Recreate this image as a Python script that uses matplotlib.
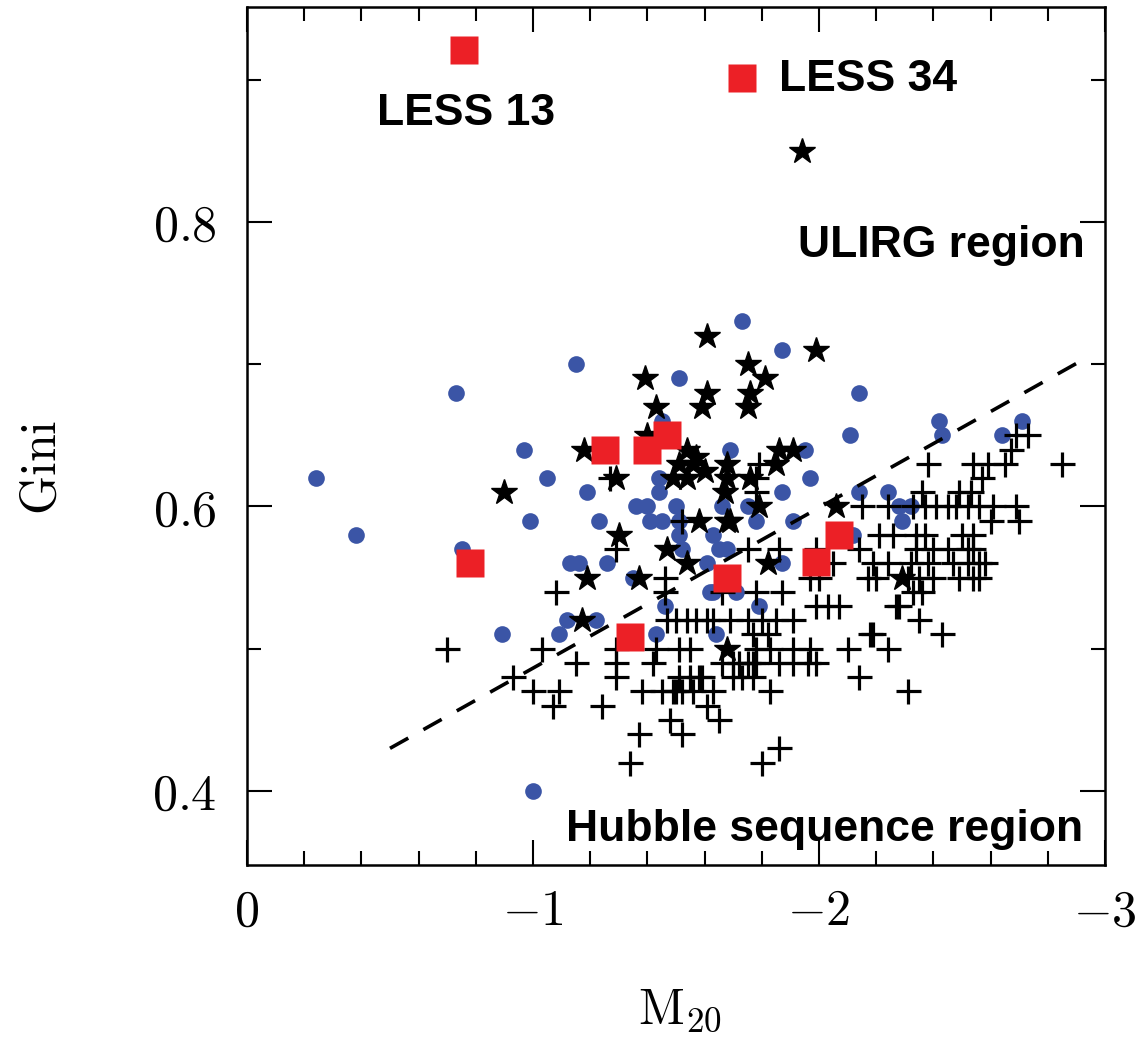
import matplotlib
matplotlib.use("Agg")
import matplotlib.pyplot as plt
from matplotlib.ticker import MultipleLocator

plt.rcParams['mathtext.fontset'] = 'cm'

# blue circles
blue_m20 = [-0.24, -0.38, -0.73, -0.75, -0.89, -0.97, -0.99, -1.00, -1.05, -1.09,
            -1.12, -1.13, -1.16, -1.15, -1.19, -1.22, -1.23, -1.26, -1.35, -1.36,
            -1.40, -1.41, -1.43, -1.44, -1.44, -1.45, -1.45, -1.46, -1.50, -1.51,
            -1.51, -1.51, -1.52, -1.62, -1.63, -1.61, -1.63, -1.64, -1.65, -1.68,
            -1.71, -1.73, -1.66, -1.75, -1.78, -1.79, -1.87, -1.87, -1.87, -1.91,
            -1.69, -1.95, -1.97, -2.11, -2.12, -2.14, -2.14, -2.24, -2.28, -2.32,
            -2.29, -2.42, -2.43, -2.64, -2.71]
blue_gini = [0.62, 0.58, 0.68, 0.57, 0.51, 0.64, 0.59, 0.40, 0.62, 0.51,
             0.52, 0.56, 0.56, 0.70, 0.61, 0.52, 0.59, 0.56, 0.55, 0.60,
             0.60, 0.59, 0.51, 0.61, 0.62, 0.66, 0.59, 0.53, 0.60, 0.69,
             0.59, 0.58, 0.57, 0.54, 0.58, 0.56, 0.54, 0.51, 0.57, 0.57,
             0.54, 0.73, 0.60, 0.60, 0.59, 0.53, 0.71, 0.56, 0.61, 0.59,
             0.64, 0.64, 0.62, 0.65, 0.58, 0.68, 0.61, 0.61, 0.60, 0.60,
             0.59, 0.66, 0.65, 0.65, 0.66]

# black stars
star_m20 = [-1.94, -1.61, -1.39, -1.43, -1.40, -1.18, -1.29, -0.90, -1.61, -1.59,
            -1.75, -1.81, -1.99, -1.76, -1.75, -1.54, -1.57, -1.51, -1.49, -1.54,
            -1.56, -1.60, -1.86, -1.91, -1.85, -1.68, -1.68, -1.76, -1.67, -1.79,
            -1.68, -1.58, -2.06, -1.30, -1.47, -1.19, -1.37, -1.54, -1.82, -1.17,
            -1.68, -2.29, -1.69]
star_gini = [0.85, 0.72, 0.69, 0.67, 0.65, 0.64, 0.62, 0.61, 0.68, 0.67,
             0.70, 0.69, 0.71, 0.68, 0.67, 0.64, 0.635, 0.63, 0.62, 0.62,
             0.63, 0.625, 0.64, 0.64, 0.63, 0.63, 0.62, 0.62, 0.61, 0.60,
             0.59, 0.59, 0.60, 0.58, 0.57, 0.55, 0.55, 0.56, 0.56, 0.52,
             0.50, 0.55, 0.59]

# plus signs, one list of M20 values per Gini row
plus_rows = [0.65, 0.64, 0.63, 0.62, 0.61, 0.60, 0.59, 0.58, 0.57, 0.56, 0.55,
             0.54, 0.53, 0.52, 0.51, 0.50, 0.49, 0.48, 0.47, 0.46, 0.45, 0.44,
             0.43, 0.42]
plus_m20_rows = [
    [-2.69, -2.73],
    [-2.67],
    [-1.79, -2.38, -2.54, -2.59, -2.65, -2.85],
    [-1.27, -1.78, -2.57],
    [-1.78, -2.36, -2.49, -2.53],
    [-2.15, -2.24, -2.33, -2.37, -2.41, -2.45, -2.48, -2.52, -2.56, -2.61, -2.69],
    [-1.52, -2.60, -2.70],
    [-2.21, -2.26, -2.34, -2.37, -2.50, -2.54],
    [-1.29, -1.75, -1.86, -1.99, -2.14, -2.34, -2.40, -2.45, -2.52, -2.54],
    [-2.05, -2.19, -2.24, -2.32, -2.38, -2.47, -2.52, -2.56, -2.58],
    [-1.46, -1.97, -2.00, -2.17, -2.20, -2.31, -2.35, -2.40, -2.49, -2.54, -2.56],
    [-1.08, -1.46, -1.66, -1.78, -1.87, -2.33, -2.36],
    [-1.99, -2.03, -2.07, -2.27, -2.28],
    [-1.47, -1.50, -1.54, -1.57, -1.61, -1.63, -1.69, -1.75, -1.80, -1.85, -1.91, -2.35],
    [-1.77, -1.82, -2.18, -2.19, -2.43],
    [-0.70, -1.03, -1.29, -1.43, -1.51, -1.55, -1.78, -1.83, -1.91, -1.97, -2.10, -2.24],
    [-1.15, -1.29, -1.42, -1.66, -1.70, -1.72, -1.75, -1.77, -1.78, -1.86, -1.91, -1.96, -1.99],
    [-0.93, -1.29, -1.51, -1.55, -1.58, -1.59, -1.70, -1.73, -1.77, -2.14],
    [-1.00, -1.09, -1.38, -1.45, -1.49, -1.50, -1.52, -1.56, -1.63, -1.83, -2.31],
    [-1.07, -1.24, -1.61],
    [-1.48, -1.65],
    [-1.37, -1.52],
    [-1.86],
    [-1.34, -1.80],
]

# red squares (LESS sources)
red_m20 = [-0.76, -1.73, -1.25, -1.40, -1.47, -0.78, -1.34, -1.68, -1.99, -2.07]
red_gini = [0.921, 0.901, 0.64, 0.64, 0.65, 0.56, 0.508, 0.55, 0.561, 0.58]

# dividing line
line_m20 = [-0.5, -2.94]
line_gini = [0.43, 0.705]

xticks = [0, -1, -2, -3]
xlabels = [r'$0$', r'$-1$', r'$-2$', r'$-3$']
yticks = [0.4, 0.6, 0.8]
ylabels = [r'$0.4$', r'$0.6$', r'$0.8$']

plus_m20 = [m for row in plus_m20_rows for m in row]
plus_gini = [g for g, row in zip(plus_rows, plus_m20_rows) for m in row]

fig = plt.figure(figsize=(11.43, 10.48), dpi=100)
ax = fig.add_axes([247 / 1143, 183 / 1048, 858 / 1143, 858 / 1048])

ax.plot(blue_m20, blue_gini, 'o', ms=12, color='#3b55a6', mec='none', zorder=2)
ax.plot(plus_m20, plus_gini, '+', ms=18, mew=2.3, color='black', zorder=3)
ax.plot(line_m20, line_gini, color='black', lw=2.6, dashes=(5.8, 4.8), zorder=3.5)
ax.plot(star_m20, star_gini, '*', ms=19, color='black', mec='black', zorder=4)
ax.plot(red_m20, red_gini, 's', ms=20.5, color='#ec2026', mec='none', zorder=5)

txt = dict(family=['Liberation Sans', 'DejaVu Sans'], weight='bold', fontsize=32)
ax.text(-0.455, 0.868, 'LESS 13', ha='left', va='baseline', **txt)
ax.text(-1.86, 0.892, 'LESS 34', ha='left', va='baseline', **txt)
ax.text(-2.93, 0.775, 'ULIRG region', ha='right', va='baseline', **txt)
ax.text(-2.925, 0.365, 'Hubble sequence region', ha='right', va='baseline', **txt)

ax.set_xlim(0, -3)
ax.set_ylim(0.348, 0.951)
ax.set_xticks(xticks)
ax.set_xticklabels(xlabels)
ax.set_yticks(yticks)
ax.set_yticklabels(ylabels)
ax.xaxis.set_minor_locator(MultipleLocator(0.2))
ax.yaxis.set_minor_locator(MultipleLocator(0.1))
ax.tick_params(which='both', direction='in', top=True, right=True, width=1.5)
ax.tick_params(which='major', length=18, labelsize=36)
ax.tick_params(axis='x', which='major', pad=16)
ax.tick_params(axis='y', which='major', pad=22)
ax.tick_params(which='minor', length=10)
for s in ax.spines.values():
    s.set_linewidth(1.8)

# axis labels placed in figure pixels
fig.text(680 / 1143, 1 - 1010 / 1048, r'$\mathrm{M}_{20}$', fontsize=36,
         ha='center', va='center')
fig.text(42 / 1143, 1 - 467 / 1048, r'$\mathrm{Gini}$', fontsize=36,
         ha='center', va='center', rotation=90)

fig.savefig('out.png', dpi=100)
